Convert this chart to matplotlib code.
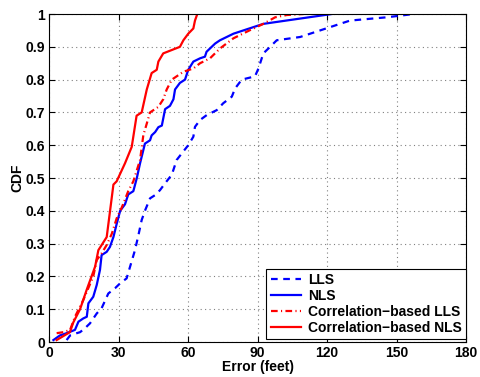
"""CDF of localization error for LLS / NLS and correlation-based variants."""
import matplotlib
matplotlib.use("Agg")
import matplotlib.pyplot as plt

plt.rcParams.update({"font.family": "Liberation Sans", "font.weight": "bold",
                     "font.size": 10, "axes.labelweight": "bold"})

# values (error in feet, CDF)
lls_x = [7.6, 9.1, 12.0, 13.4, 15.5, 17.7, 20.6, 22.7, 25.6, 28.5, 30.7, 33.5, 35.0,
         37.1, 38.6, 40.0, 41.4, 43.6, 45.8, 47.9, 50.1, 53.0, 55.1, 57.3, 60.1, 62.3,
         63.0, 65.2, 68.1, 72.4, 75.2, 78.9, 80.3, 83.2, 88.9, 90.4, 92.5, 94.7, 98.3,
         108.4, 112.7, 121.3, 129.9, 145.7, 157.3]
lls_y = [0.006, 0.02, 0.027, 0.03, 0.042, 0.057, 0.087, 0.103, 0.148, 0.164, 0.179,
         0.194, 0.23, 0.28, 0.326, 0.372, 0.40, 0.438, 0.448, 0.463, 0.484, 0.51, 0.555,
         0.575, 0.60, 0.626, 0.656, 0.677, 0.692, 0.707, 0.728, 0.748, 0.773, 0.80, 0.81,
         0.834, 0.88, 0.895, 0.92, 0.93, 0.94, 0.96, 0.98, 0.99, 1.0]

nls_x = [1.9, 4.7, 7.6, 11.2, 12.7, 14.8, 16.3, 17.0, 19.1, 20.6, 22.0, 22.7, 24.9,
         26.3, 27.8, 29.2, 30.7, 32.8, 34.2, 36.4, 37.9, 39.3, 41.4, 43.6, 44.3, 45.8,
         47.2, 48.7, 50.1, 52.2, 53.7, 54.4, 56.5, 58.7, 60.1, 62.3, 65.2, 67.3, 68.0,
         71.7, 73.8, 79.6, 88.2, 92.5, 122.0]
nls_y = [0.006, 0.02, 0.027, 0.037, 0.062, 0.072, 0.077, 0.118, 0.138, 0.174, 0.22,
         0.265, 0.275, 0.29, 0.32, 0.36, 0.40, 0.42, 0.45, 0.46, 0.50, 0.545, 0.605,
         0.615, 0.63, 0.64, 0.655, 0.66, 0.71, 0.72, 0.74, 0.77, 0.79, 0.80, 0.83, 0.855,
         0.865, 0.87, 0.885, 0.91, 0.92, 0.94, 0.96, 0.97, 1.0]

clls_x = [3.3, 6.2, 9.1, 11.2, 14.8, 19.1, 20.6, 22.7, 24.9, 27.1, 29.2, 31.4, 34.2,
          36.4, 39.3, 40.7, 43.6, 47.2, 49.3, 50.8, 53.0, 58.0, 62.3, 65.2, 69.5, 73.8,
          79.6, 86.8, 92.5, 97.6, 102.6, 109.8]
clls_y = [0.027, 0.03, 0.037, 0.077, 0.128, 0.20, 0.25, 0.27, 0.296, 0.33, 0.377, 0.41,
          0.46, 0.49, 0.555, 0.63, 0.70, 0.717, 0.74, 0.77, 0.80, 0.824, 0.834, 0.85,
          0.865, 0.895, 0.926, 0.951, 0.97, 0.99, 0.997, 1.0]

cnls_x = [3.3, 9.0, 10.5, 13.4, 16.3, 19.9, 21.3, 24.9, 27.8, 29.2, 32.8, 35.7, 37.8,
          40.0, 42.2, 44.3, 46.5, 47.2, 49.3, 56.5, 58.0, 60.1, 62.3, 63.0, 64.0]
cnls_y = [0.006, 0.03, 0.06, 0.10, 0.16, 0.23, 0.28, 0.32, 0.48, 0.49, 0.545, 0.595,
          0.69, 0.70, 0.77, 0.82, 0.83, 0.855, 0.88, 0.90, 0.92, 0.94, 0.956, 0.98, 1.0]

fig = plt.figure(figsize=(4.81, 3.77), dpi=100)
ax = fig.add_axes([0.1019, 0.0928, 0.867, 0.870])

ax.plot(lls_x, lls_y, color="#0000ff", lw=1.6, ls=(0, (3, 2.5)), label="LLS")
ax.plot(nls_x, nls_y, color="#0000ff", lw=1.6, label="NLS")
ax.plot(clls_x, clls_y, color="#ff0000", lw=1.6, ls=(0, (3, 1.5, 0.5, 1.5)),
        label="Correlation\u2212based LLS")
ax.plot(cnls_x, cnls_y, color="#ff0000", lw=1.6, label="Correlation\u2212based NLS")

ax.set_xlim(0, 180)
ax.set_ylim(0, 1)
ax.set_xticks(range(0, 181, 30))
ax.set_yticks([i / 10 for i in range(11)])
ax.set_yticklabels(["0", "0.1", "0.2", "0.3", "0.4", "0.5", "0.6", "0.7", "0.8", "0.9", "1"])
ax.grid(True, ls=(0, (1, 3)), color="0.5", lw=0.8)
ax.tick_params(direction="in", top=True, right=True, length=4, labelsize=10, pad=3)
for s in ax.spines.values():
    s.set_linewidth(0.8)
ax.set_xlabel("Error (feet)", labelpad=0)
ax.set_ylabel("CDF", labelpad=1)

leg = ax.legend(loc="lower right", bbox_to_anchor=(1.0, 0.008), fancybox=False,
                edgecolor="black", framealpha=1, handlelength=2.2, borderaxespad=0,
                labelspacing=0.15, borderpad=0.3, handletextpad=0.5)
leg.get_frame().set_linewidth(0.8)

fig.savefig("out.png", dpi=100)
